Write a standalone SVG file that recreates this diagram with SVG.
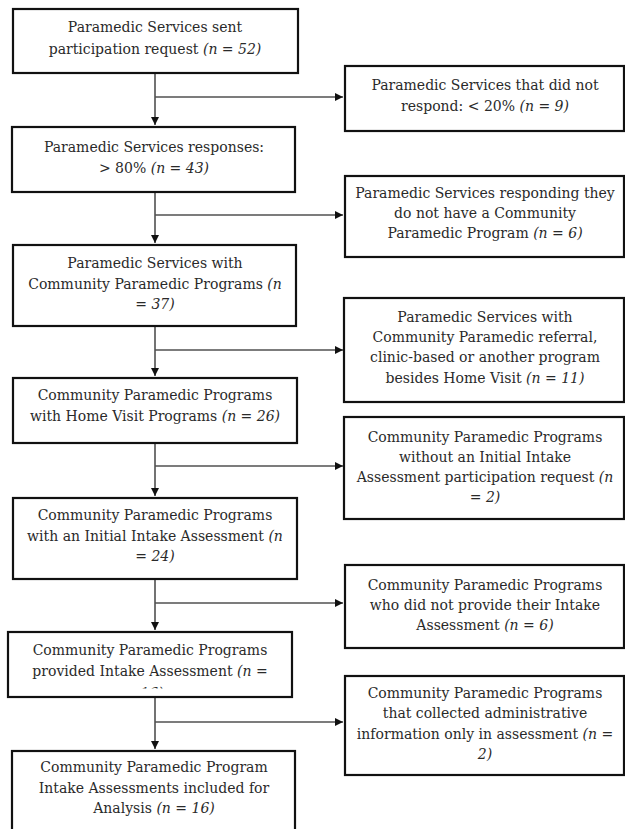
<svg xmlns="http://www.w3.org/2000/svg" width="625" height="829" viewBox="0 0 625 829">
<style>
.box{fill:#fff;stroke:#111;stroke-width:2.2}
.t{font-family:"DejaVu Serif","Noto Serif","Liberation Serif",serif;font-size:14px;fill:#2a2a2a;text-anchor:middle}
.i{font-style:italic}
.c{fill:none;stroke:#505050;stroke-width:1.6}
</style>
<defs>
<marker id="ah" markerUnits="userSpaceOnUse" markerWidth="10" markerHeight="10" refX="8" refY="4" orient="auto">
<path d="M0,0 L8,4 L0,8 Z" fill="#111"/>
</marker>
<clipPath id="clipL6"><rect x="0" y="600" width="320" height="88.5"/></clipPath>
</defs>
<g id="connectors">
<path class="c" d="M155,73 V125" marker-end="url(#ah)"/>
<path class="c" d="M155,97 H343" marker-end="url(#ah)"/>
<path class="c" d="M155,192 V243" marker-end="url(#ah)"/>
<path class="c" d="M155,215 H343" marker-end="url(#ah)"/>
<path class="c" d="M155,326 V376" marker-end="url(#ah)"/>
<path class="c" d="M155,350 H343" marker-end="url(#ah)"/>
<path class="c" d="M155,443 V496" marker-end="url(#ah)"/>
<path class="c" d="M155,466 H343" marker-end="url(#ah)"/>
<path class="c" d="M155,579 V630" marker-end="url(#ah)"/>
<path class="c" d="M155,603 H343" marker-end="url(#ah)"/>
<path class="c" d="M155,697 V749" marker-end="url(#ah)"/>
<path class="c" d="M155,722 H343" marker-end="url(#ah)"/>
</g>
<g id="L1">
<rect class="box" x="13" y="9" width="285" height="64"/>
<text class="t" x="155" y="32">Paramedic Services sent</text>
<text class="t" x="155" y="53.5">participation request <tspan class="i">(n = 52)</tspan></text>
</g>
<g id="L2">
<rect class="box" x="12" y="127" width="283" height="65"/>
<text class="t" x="154" y="152">Paramedic Services responses:</text>
<text class="t" x="154" y="172.5">&gt; 80% <tspan class="i">(n = 43)</tspan></text>
</g>
<g id="L3">
<rect class="box" x="13" y="245" width="283" height="81"/>
<text class="t" x="155" y="268">Paramedic Services with</text>
<text class="t" x="155" y="288.5">Community Paramedic Programs <tspan class="i">(n</tspan></text>
<text class="t i" x="155" y="308.5">= 37)</text>
</g>
<g id="L4">
<rect class="box" x="13" y="378" width="284" height="65"/>
<text class="t" x="155" y="400">Community Paramedic Programs</text>
<text class="t" x="155" y="420.5">with Home Visit Programs <tspan class="i">(n = 26)</tspan></text>
</g>
<g id="L5">
<rect class="box" x="13" y="498" width="284" height="81"/>
<text class="t" x="155" y="520">Community Paramedic Programs</text>
<text class="t" x="155" y="540.5">with an Initial Intake Assessment <tspan class="i">(n</tspan></text>
<text class="t i" x="155" y="560.5">= 24)</text>
</g>
<g id="L6">
<rect class="box" x="8" y="632" width="284" height="65"/>
<text class="t" x="150" y="655">Community Paramedic Programs</text>
<text class="t" x="150" y="676">provided Intake Assessment <tspan class="i">(n =</tspan></text>
<text class="t i" x="152" y="697.5" clip-path="url(#clipL6)">16)</text>
</g>
<g id="L7">
<rect class="box" x="12" y="751" width="283" height="95"/>
<text class="t" x="154" y="772">Community Paramedic Program</text>
<text class="t" x="154" y="792.5">Intake Assessments included for</text>
<text class="t" x="154" y="812.5">Analysis <tspan class="i">(n = 16)</tspan></text>
</g>
<g id="R1">
<rect class="box" x="345" y="66" width="279" height="65"/>
<text class="t" x="485" y="90">Paramedic Services that did not</text>
<text class="t" x="485" y="110.5">respond: &lt; 20% <tspan class="i">(n = 9)</tspan></text>
</g>
<g id="R2">
<rect class="box" x="345" y="176" width="279" height="81"/>
<text class="t" x="485" y="198">Paramedic Services responding they</text>
<text class="t" x="485" y="218">do not have a Community</text>
<text class="t" x="485" y="238">Paramedic Program <tspan class="i">(n = 6)</tspan></text>
</g>
<g id="R3">
<rect class="box" x="344" y="298" width="280" height="104"/>
<text class="t" x="485" y="322">Paramedic Services with</text>
<text class="t" x="485" y="342">Community Paramedic referral,</text>
<text class="t" x="485" y="362">clinic-based or another program</text>
<text class="t" x="485" y="382.5">besides Home Visit <tspan class="i">(n = 11)</tspan></text>
</g>
<g id="R4">
<rect class="box" x="344" y="417" width="280" height="102"/>
<text class="t" x="485" y="442">Community Paramedic Programs</text>
<text class="t" x="485" y="462">without an Initial Intake</text>
<text class="t" x="485" y="482">Assessment participation request <tspan class="i">(n</tspan></text>
<text class="t i" x="485" y="502">= 2)</text>
</g>
<g id="R5">
<rect class="box" x="345" y="565" width="279" height="83"/>
<text class="t" x="485" y="590">Community Paramedic Programs</text>
<text class="t" x="485" y="610">who did not provide their Intake</text>
<text class="t" x="485" y="630">Assessment <tspan class="i">(n = 6)</tspan></text>
</g>
<g id="R6">
<rect class="box" x="345" y="676" width="279" height="99"/>
<text class="t" x="485" y="698">Community Paramedic Programs</text>
<text class="t" x="485" y="718">that collected administrative</text>
<text class="t" x="485" y="738.5">information only in assessment <tspan class="i">(n =</tspan></text>
<text class="t i" x="485" y="759">2)</text>
</g>
</svg>
